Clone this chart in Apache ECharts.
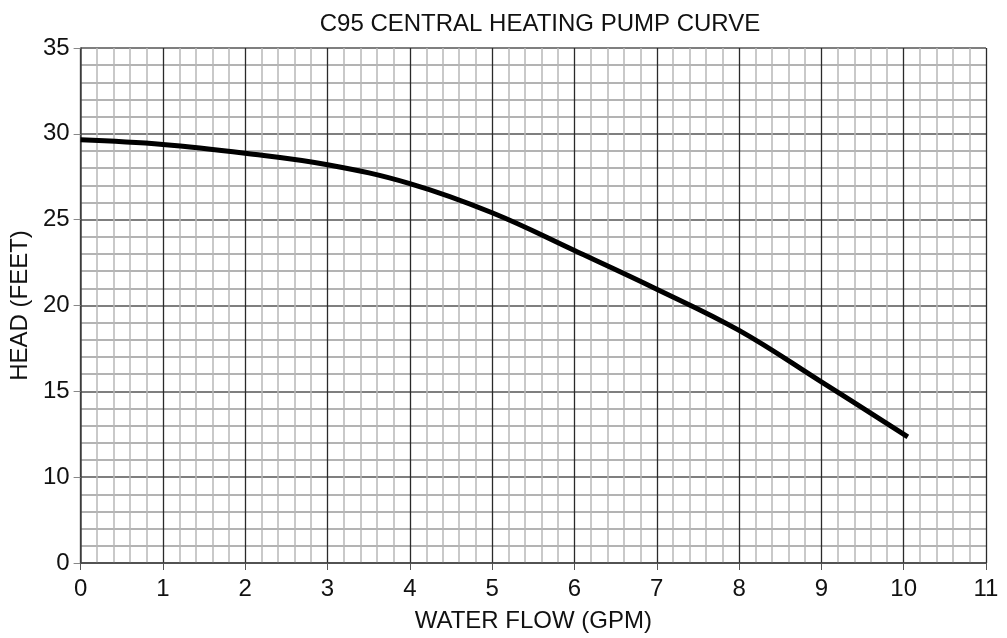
<!DOCTYPE html>
<html>
<head>
<meta charset="utf-8">
<script src="https://cdn.jsdelivr.net/npm/echarts@6/dist/echarts.min.js"></script>
<style>
  html, body { margin: 0; padding: 0; background: #fff; }
  #chart { width: 1007px; height: 638px; }
</style>
</head>
<body>
<div id="chart"></div>
<script>
// flow (GPM) and head (feet)
var flow = [0, 1, 2, 3, 4, 5, 6, 7, 8, 9, 10.05];
var head = [29.65, 29.38, 28.87, 28.2, 27.1, 25.4, 23.2, 20.95, 18.55, 15.55, 12.35];

// the bottom of the head scale is printed as 0 even though it sits one step below 10
var headBottom = 5;
var headBottomLabel = '0';

var points = flow.map(function (f, i) { return [f, head[i]]; });

var font = '"Liberation Sans", Arial, Helvetica, sans-serif';

var option = {
    animation: false,
    backgroundColor: '#fff',
    title: {
        text: 'C95 CENTRAL HEATING PUMP CURVE',
        left: 535,
        textAlign: 'center',
        top: 7,
        textStyle: { fontFamily: font, fontSize: 24, fontWeight: 'normal', color: '#111' }
    },
    grid: { left: 79, right: 21, top: 48, bottom: 74 },
    xAxis: {
        type: 'value',
        min: 0, max: 11, interval: 1,
        name: 'WATER FLOW (GPM)',
        nameLocation: 'middle',
        nameGap: 46,
        nameTextStyle: { fontFamily: font, fontSize: 24, color: '#111' },
        axisLine: { show: true, lineStyle: { color: '#444', width: 1.5 } },
        axisTick: { show: true, length: 7, lineStyle: { color: '#555' } },
        axisLabel: { fontFamily: font, fontSize: 24, color: '#111', margin: 14 },
        splitLine: { show: true, lineStyle: { color: '#2a2a2a', width: 1.3 } },
        minorTick: { show: false, splitNumber: 5 },
        minorSplitLine: { show: true, lineStyle: { color: '#b8b8b8', width: 1.5 } }
    },
    yAxis: {
        type: 'value',
        min: headBottom, max: 35, interval: 5,
        name: 'HEAD (FEET)',
        nameLocation: 'middle',
        nameGap: 44,
        nameTextStyle: { fontFamily: font, fontSize: 24, color: '#111' },
        axisLine: { show: true, lineStyle: { color: '#444', width: 1.5 } },
        axisTick: { show: true, length: 7, lineStyle: { color: '#888' } },
        axisLabel: {
            fontFamily: font, fontSize: 24, color: '#111', margin: 11,
            formatter: function (v) { return v === headBottom ? headBottomLabel : String(v); }
        },
        splitLine: { show: true, lineStyle: { color: '#555', width: 1.5 } },
        minorTick: { show: false, splitNumber: 5 },
        minorSplitLine: { show: true, lineStyle: { color: '#9a9a9a', width: 1.6 } }
    },
    series: [
        {
            type: 'line',
            data: points,
            smooth: 0.4,
            showSymbol: false,
            lineStyle: { color: '#000', width: 5, cap: 'butt' },
            z: 5
        }
    ]
};

var chart = echarts.init(document.getElementById('chart'));
chart.setOption(option);
</script>
</body>
</html>
